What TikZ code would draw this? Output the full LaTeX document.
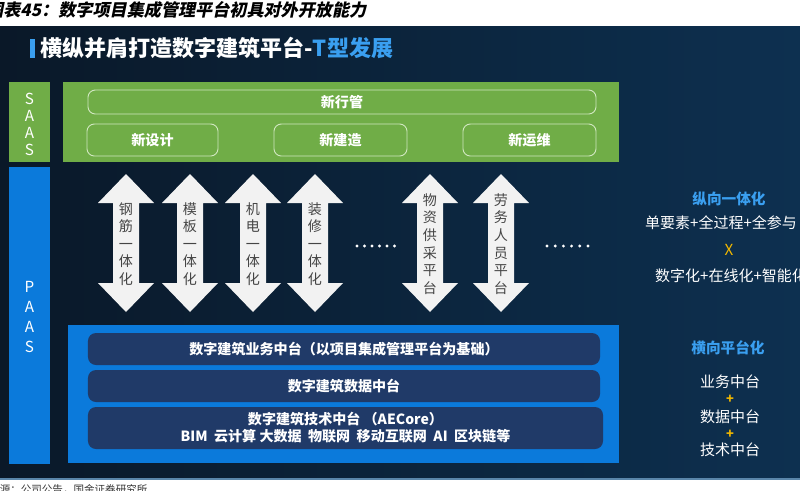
\documentclass[tikz,border=0pt]{standalone}
\usepackage{fontspec}
\setmainfont{Noto Sans CJK SC}
\newfontfamily\capfont[FakeSlant=0.2]{Noto Sans CJK SC}
\usepackage{tikz}
\usetikzlibrary{positioning,calc}
\definecolor{PanelDark}{HTML}{0A1828}
\definecolor{PanelRight}{HTML}{0D3050}
\definecolor{SaasGreen}{HTML}{70AD47}
\definecolor{SaasLine}{HTML}{CFE6BE}
\definecolor{PaasBlue}{HTML}{0B7ADB}
\definecolor{TaiNavy}{HTML}{203A68}
\definecolor{TitleBlue}{HTML}{3A9FF0}
\definecolor{PlusGold}{HTML}{F2B800}
\definecolor{ArrowText}{HTML}{454545}
\definecolor{RuleBlue}{HTML}{5A86AA}

\begin{document}
\begin{tikzpicture}[
    x=0.03cm,y=-0.03cm,
    column/.style={rectangle,inner sep=0pt,minimum width=1.23cm,align=center,text=white,font=\fontsize{13}{14.5}\selectfont},
    panel/.style={rectangle,inner sep=0pt},
    greenbox/.style={rectangle,rounded corners=2.2mm,draw=SaasLine,line width=0.8pt,text=white,inner sep=0pt,minimum height=0.96cm,font=\bfseries\fontsize{12}{14}\selectfont},
    taibox/.style={rectangle,rounded corners=2.4mm,fill=TaiNavy,text=white,inner sep=0pt,minimum width=15.36cm,minimum height=0.96cm,align=center,font=\bfseries\fontsize{12}{15}\selectfont},
    arrowtext/.style={align=center,text=ArrowText,font=\fontsize{12}{15}\selectfont},
    sidehead/.style={text=TitleBlue,font=\bfseries\fontsize{12.5}{15}\selectfont},
    sidetext/.style={text=white,font=\fontsize{12.8}{15}\selectfont},
    plus/.style={text=PlusGold,font=\bfseries\fontsize{11}{13}\selectfont}
]
\useasboundingbox (0,0) rectangle (800,490);
\fill[white] (0,0) rectangle (800,490);
\fill[left color=PanelDark,middle color=PanelDark,right color=PanelRight] (0,26) rectangle (800,477);
\node[anchor=west,inner sep=0pt,font=\capfont\bfseries\fontsize{14.6}{16}\selectfont] (caption) at (-14,10) {图表45：数字项目集成管理平台初具对外开放能力};
\fill[TitleBlue] (30,39) rectangle (35,58);
\node[anchor=west,inner sep=0pt,text=white,font=\bfseries\fontsize{18.8}{21}\selectfont] (title) at (40,48) {横纵并肩打造数字建筑平台-\textcolor{TitleBlue}{T型发展}};
\node[column,fill=SaasGreen,minimum height=2.4cm] (saas) at (29.5,122) {};
\node[column] (saaslbl) at (29.5,124) {S\\A\\A\\S};
\node[panel,fill=SaasGreen,minimum width=16.68cm,minimum height=2.4cm] (saaspanel) at (341,122) {};
\node[greenbox,minimum width=15.24cm,minimum height=0.72cm] (xinhang) at (342,102) {新行管};
\node[greenbox,minimum width=3.93cm] (sheji) at (152.5,140) {新设计};
\node[greenbox,minimum width=3.99cm] (jianzao) at (340.5,140) {新建造};
\node[greenbox,minimum width=3.99cm] (yunwei) at (529.5,140) {新运维};
\node[column,fill=PaasBlue,minimum height=8.91cm] (paas) at (29.5,315.5) {};
\node[column,font=\fontsize{13}{17}\selectfont] (paaslbl) at (29.5,317) {P\\A\\A\\S};
\foreach \cx/\nm/\txt in {126/a1/{钢\\筋\\一\\体\\化},190/a2/{模\\板\\一\\体\\化},253/a3/{机\\电\\一\\体\\化},315/a4/{装\\修\\一\\体\\化},430/a5/{物\\资\\供\\采\\平\\台},501/a6/{劳\\务\\人\\员\\平\\台}}{
  \fill[white!95!black] (\cx,174) -- (\cx+28,203) -- (\cx+13,203) -- (\cx+13,283) -- (\cx+28,283) -- (\cx,312) -- (\cx-28,283) -- (\cx-13,283) -- (\cx-13,203) -- (\cx-28,203) -- cycle;
  \node[arrowtext] (\nm) at (\cx,244) {\txt};
}
\foreach \i in {0,...,5}{
  \fill[white] (357+7.5*\i,246) circle (1.6);
  \fill[white] (547+8.2*\i,246) circle (1.6);
}
\node[panel,fill=PaasBlue,minimum width=16.53cm,minimum height=4.14cm] (paaspanel) at (343.5,394) {};
\node[taibox] (yewu) at (344,349) {数字建筑业务中台（以项目集成管理平台为基础）};
\node[taibox] (shuju) at (344,386) {数字建筑数据中台};
\node[taibox,minimum width=15.45cm,minimum height=1.26cm,font=\bfseries\fontsize{12}{14.5}\selectfont] (jishu) at (345.5,428) {数字建筑技术中台 （AECore）\\BIM\ \ 云计算 大数据\ \ 物联网\ \ 移动互联网\ \ AI\ \ 区块链等};
\node[sidehead] (zongxiang) at (729,199) {纵向一体化};
\node[sidetext,anchor=west,inner sep=0pt] (zong1) at (645,223) {单要素+全过程+全参与};
\node[text=PlusGold,font=\fontsize{13}{15}\selectfont] (cross) at (729,250) {X};
\node[sidetext,anchor=west,inner sep=0pt] (zong2) at (655,276) {数字化+在线化+智能化};
\node[sidehead] (hengxiang) at (728,348) {横向平台化};
\node[sidetext] (h1) at (730,382) {业务中台};
\node[plus] (p1) at (730,399) {+};
\node[sidetext] (h2) at (730,417) {数据中台};
\node[plus] (p2) at (730,434) {+};
\node[sidetext] (h3) at (730,450) {技术中台};
\draw[RuleBlue,line width=1.5pt] (0,479) -- (800,479);
\node[anchor=west,inner sep=0pt,text=black!80,font=\fontsize{9}{10}\selectfont] (source) at (-11,490) {来源：公司公告，国金证券研究所};
\end{tikzpicture}
\end{document}
